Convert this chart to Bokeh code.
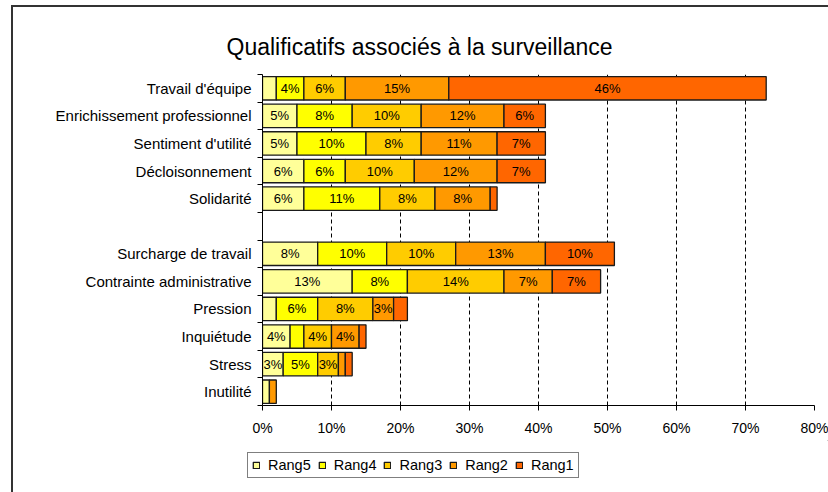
from bokeh.plotting import figure
from bokeh.models import (ColumnDataSource, FixedTicker, Range1d, LabelSet,
                          Legend, LegendItem, PrintfTickFormatter)
from bokeh.layouts import column, row
from bokeh.core.properties import value
from bokeh.embed import file_html
from bokeh.resources import INLINE

# ---- data (top to bottom) ----
categories = ["Travail d'équipe", "Enrichissement professionnel", "Sentiment d'utilité",
              "Décloisonnement", "Solidarité", "",
              "Surcharge de travail", "Contrainte administrative", "Pression",
              "Inquiétude", "Stress", "Inutilité"]
rang5 = [2, 5, 5, 6, 6, 0, 8, 13, 2, 4, 3, 1]
rang4 = [4, 8, 10, 6, 11, 0, 10, 8, 6, 2, 5, 0]
rang3 = [6, 10, 8, 10, 8, 0, 10, 14, 8, 4, 3, 0]
rang2 = [15, 12, 11, 12, 8, 0, 13, 7, 3, 4, 1, 1]
rang1 = [46, 6, 7, 7, 1, 0, 10, 7, 2, 1, 1, 0]
series_names = ["Rang5", "Rang4", "Rang3", "Rang2", "Rang1"]
series_values = [rang5, rang4, rang3, rang2, rang1]
colors = ["#FFFF99", "#FFFF00", "#FFCC00", "#FF9900", "#FF6600"]
x_ticks = [0, 10, 20, 30, 40, 50, 60, 70, 80]
title_text = "Qualificatifs associés à la surveillance"

FONT = "Liberation Sans"
n = len(categories)
LINE = "#1a1a1a"

p = figure(width=828, height=440, x_range=Range1d(0, 80), y_range=Range1d(0, n),
           output_backend="svg", toolbar_location=None,
           min_border_left=262, min_border_right=14, min_border_top=74, min_border_bottom=35)
p.border_fill_color = None
p.background_fill_color = "white"
p.outline_line_color = None

p.title.text = title_text
p.title.text_font = FONT
p.title.text_font_size = "23px"
p.title.text_font_style = "normal"
p.title.text_color = "black"
p.title.align = "left"
p.title.vertical_align = "top"
p.title.offset = -36
p.title.standoff = 25

ypos = [n - i - 0.5 for i in range(n)]
cum = [0] * n
lab_x, lab_y, lab_t = [], [], []
for name, vals, col in zip(series_names, series_values, colors):
    rows = [i for i in range(n) if vals[i] > 0]
    src = ColumnDataSource(dict(
        y=[ypos[i] for i in rows],
        left=[cum[i] for i in rows],
        right=[cum[i] + vals[i] for i in rows],
    ))
    p.hbar(y="y", left="left", right="right", height=0.85, source=src,
           fill_color=col, line_color=LINE, line_width=1.3)
    for i in rows:
        if vals[i] >= 3:
            lab_x.append(cum[i] + vals[i] / 2)
            lab_y.append(ypos[i])
            lab_t.append(f"{vals[i]}%")
    for i in range(n):
        cum[i] += vals[i]

labels = LabelSet(x="x", y="y", text="t", source=ColumnDataSource(dict(x=lab_x, y=lab_y, t=lab_t)),
                  text_align="center", text_baseline="middle", text_font=value(FONT),
                  text_font_size=value("13px"), text_color="black")
p.add_layout(labels)

# axes
p.yaxis.ticker = FixedTicker(ticks=ypos, minor_ticks=list(range(n + 1)))
p.yaxis.major_label_overrides = {ypos[i]: categories[i] for i in range(n)}
p.yaxis.major_tick_out = 0
p.yaxis.major_tick_in = 0
p.yaxis.minor_tick_out = 5
p.yaxis.minor_tick_in = 0
p.yaxis.axis_line_color = "black"
p.yaxis.minor_tick_line_color = "black"
p.yaxis.major_label_standoff = 6
p.yaxis.major_label_text_font = FONT
p.yaxis.major_label_text_font_size = "15px"
p.yaxis.major_label_text_color = "black"

p.xaxis.ticker = FixedTicker(ticks=x_ticks)
p.xaxis.formatter = PrintfTickFormatter(format="%d%%")
p.xaxis.major_tick_out = 5
p.xaxis.major_tick_in = 0
p.xaxis.minor_tick_line_color = None
p.xaxis.axis_line_color = "black"
p.xaxis.major_tick_line_color = "black"
p.xaxis.major_label_standoff = 9
p.xaxis.major_label_text_font = FONT
p.xaxis.major_label_text_font_size = "14px"
p.xaxis.major_label_text_color = "black"

p.xgrid.ticker = FixedTicker(ticks=x_ticks)
p.xgrid.grid_line_color = "black"
p.xgrid.grid_line_dash = "4 3"
p.xgrid.grid_line_width = 1
p.ygrid.visible = False

# ---- legend strip ----
p2 = figure(width=828, height=52, x_range=Range1d(0, 1), y_range=Range1d(0, 1),
            output_backend="svg", toolbar_location=None, x_axis_type=None, y_axis_type=None,
            min_border_left=0, min_border_right=0, min_border_top=0, min_border_bottom=0)
p2.border_fill_color = None
p2.background_fill_color = None
p2.outline_line_color = None
p2.grid.visible = False
leg_renderers = []
for col in colors:
    # swatch renderers: one off-range bar each, so only the legend glyph is seen
    leg_renderers.append(p2.hbar(y=[5], left=[5], right=[6], height=0.85,
                                 fill_color=col, line_color=LINE, line_width=1.3))
legend = Legend(items=[LegendItem(label=nm, renderers=[r]) for nm, r in zip(series_names, leg_renderers)],
                orientation="horizontal", location=(247, 14), margin=0, padding=4,
                spacing=7, glyph_width=8, glyph_height=8, label_standoff=8,
                label_height=13, label_text_font=FONT, label_text_font_size="14.5px",
                label_text_color="black", border_line_color="black", border_line_width=1,
                background_fill_color="white", background_fill_alpha=1)
p2.add_layout(legend)

layout = column(p, row(p2, spacing=0), spacing=0)
layout.styles = {
    "background-image": "linear-gradient(#333, #333), linear-gradient(#333, #333)",
    "background-repeat": "no-repeat, no-repeat",
    "background-position": "11px 5px, 11px 5px",
    "background-size": "2px 100%, 100% 2px",
}

open("out.html", "w").write(file_html(layout, INLINE))
